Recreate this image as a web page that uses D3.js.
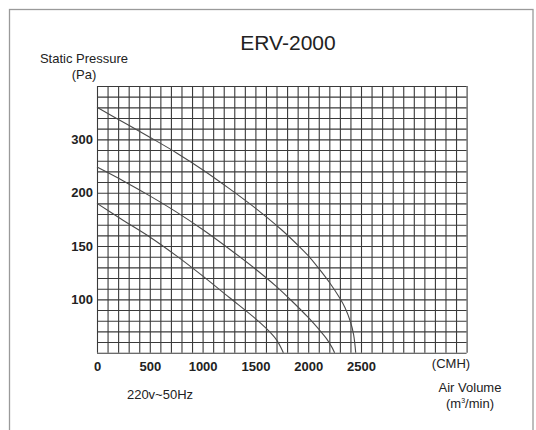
<!DOCTYPE html>
<html>
<head>
<meta charset="utf-8">
<script src="https://cdn.jsdelivr.net/npm/d3@7"></script>
<style>
  html, body { margin: 0; padding: 0; background: #fff; }
  svg { display: block; font-family: "Liberation Sans", Arial, sans-serif; }
</style>
</head>
<body>
<svg id="chart" width="536" height="430"></svg>
<script>
// ---- data ----
const title = "ERV-2000";
const xTickValues = [0, 500, 1000, 1500, 2000, 2500];
const xTickLabels = ["0", "500", "1000", "1500", "2000", "2500"];
const yTickValues = [100, 150, 200, 250];
const yTickLabels = ["100", "150", "200", "300"];

const curveHighQ = [0, 250, 500, 750, 1000, 1250, 1500, 1750, 1900, 2000, 2100, 2200, 2300, 2350, 2400, 2430, 2450];
const curveHighP = [280, 266, 252, 237.5, 221.5, 204, 185.5, 165, 151, 141, 129, 116, 101, 92, 79, 67, 50];

const curveMidQ = [0, 250, 500, 750, 1000, 1250, 1500, 1700, 1850, 2000, 2100, 2175, 2225, 2250];
const curveMidP = [224, 211, 197, 182, 165.5, 147.5, 128.5, 112, 98, 83, 72, 63, 55, 50];

const curveLowQ = [0, 250, 500, 750, 1000, 1250, 1500, 1600, 1700, 1765];
const curveLowP = [190, 174, 158.5, 141, 122, 102, 82, 73, 62, 50];

(function () {
// ---- layout ----
const svg = d3.select("#chart");
const pLeft = 97, pRight = 466.6, pTop = 86, pBottom = 352.7;

const x = d3.scaleLinear().domain([0, 3500]).range([pLeft, pRight]);
const y = d3.scaleLinear().domain([50, 300]).range([pBottom, pTop]);

// frame
svg.append("rect")
  .attr("x", 9.5).attr("y", 9.5).attr("width", 523.5).attr("height", 440)
  .attr("fill", "none").attr("stroke", "#9a9a9a").attr("stroke-width", 1.3);

// grid
const gridColor = "#3a3a3a";
const gx = svg.append("g").attr("transform", `translate(0,${pBottom})`)
  .call(d3.axisBottom(x).tickValues(d3.range(0, 3501, 100)).tickSize(-(pBottom - pTop)).tickFormat(""));
gx.select(".domain").remove();
gx.selectAll("line").attr("stroke", gridColor).attr("stroke-width", 1.1);

const gy = svg.append("g").attr("transform", `translate(${pLeft},0)`)
  .call(d3.axisLeft(y).tickValues(d3.range(50, 301, 10)).tickSize(-(pRight - pLeft)).tickFormat(""));
gy.select(".domain").remove();
gy.selectAll("line").attr("stroke", gridColor).attr("stroke-width", 1.1);

// axis labels
const ax = svg.append("g").attr("transform", `translate(0,${pBottom})`)
  .call(d3.axisBottom(x).tickValues(xTickValues).tickSize(0).tickPadding(9)
    .tickFormat((d, i) => xTickLabels[i]));
ax.select(".domain").remove();
ax.selectAll("text").attr("font-size", 13).attr("font-weight", "bold")
  .attr("font-family", "'Liberation Sans', Arial, sans-serif").attr("fill", "#222");

const ay = svg.append("g").attr("transform", `translate(${pLeft},0)`)
  .call(d3.axisLeft(y).tickValues(yTickValues).tickSize(0).tickPadding(4)
    .tickFormat((d, i) => yTickLabels[i]));
ay.select(".domain").remove();
ay.selectAll("text").attr("font-size", 13).attr("font-weight", "bold")
  .attr("font-family", "'Liberation Sans', Arial, sans-serif").attr("fill", "#222");

// curves
const line = d3.line().x(d => x(d[0])).y(d => y(d[1])).curve(d3.curveCatmullRom.alpha(0.5));
[[curveHighQ, curveHighP], [curveMidQ, curveMidP], [curveLowQ, curveLowP]].forEach(([qs, ps]) => {
  svg.append("path")
    .datum(qs.map((q, i) => [q, ps[i]]))
    .attr("d", line)
    .attr("fill", "none").attr("stroke", "#4a4a4a").attr("stroke-width", 1.1);
});

// texts
const txt = (s, tx, ty, size, anchor, opts = {}) => svg.append("text")
  .attr("x", tx).attr("y", ty).attr("font-size", size).attr("text-anchor", anchor)
  .attr("fill", opts.fill || "#222").attr("font-weight", opts.weight || "normal").text(s);

txt(title, 288, 50, 21, "middle");
txt("Static Pressure", 84, 63, 13, "middle");
txt("(Pa)", 84, 79, 13, "middle");
txt("(CMH)", 451, 368, 13, "middle");
txt("Air Volume", 470, 392, 13, "middle");
const mt = txt("(m", 470, 408, 13, "middle");
mt.append("tspan").attr("font-size", 7).attr("dy", -5).text("3");
mt.append("tspan").attr("dy", 5).text("/min)");
txt("220v~50Hz", 160, 399, 13, "middle");
})();
</script>
</body>
</html>
